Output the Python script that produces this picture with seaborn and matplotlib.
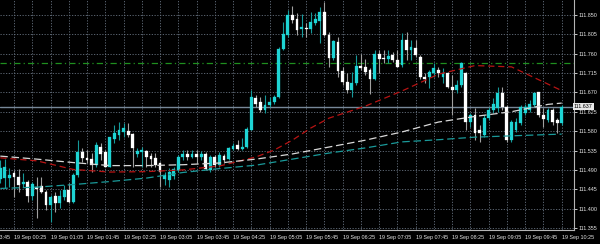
import numpy as np
import matplotlib
matplotlib.use("Agg")
import matplotlib.pyplot as plt
import matplotlib.transforms as mtransforms
import seaborn as sns

# ---------------- data (USDJPY-like M5 candles) ----------------
opens = [111.469, 111.471, 111.472, 111.483, 111.474, 111.457, 111.463, 111.429, 111.451, 111.453,
         111.439, 111.409, 111.429, 111.414, 111.426, 111.443, 111.416, 111.478, 111.531, 111.518,
         111.515, 111.501, 111.544, 111.532, 111.497, 111.562, 111.571, 111.579, 111.581, 111.573,
         111.527, 111.531, 111.535, 111.522, 111.517, 111.505, 111.470, 111.467, 111.476, 111.490,
         111.521, 111.528, 111.521, 111.528, 111.520, 111.527, 111.490, 111.521, 111.501, 111.523,
         111.515, 111.538, 111.548, 111.538, 111.544, 111.583, 111.656, 111.648, 111.629, 111.640,
         111.648, 111.658, 111.770, 111.803, 111.849, 111.839, 111.816, 111.820, 111.816, 111.831,
         111.836, 111.857, 111.803, 111.749, 111.787, 111.720, 111.695, 111.675, 111.691, 111.731,
         111.729, 111.722, 111.700, 111.760, 111.750, 111.747, 111.757, 111.745, 111.733, 111.791,
         111.768, 111.772, 111.753, 111.706, 111.705, 111.714, 111.722, 111.705, 111.714, 111.683,
         111.675, 111.687, 111.714, 111.602, 111.617, 111.583, 111.571, 111.610, 111.629, 111.633,
         111.668, 111.637, 111.559, 111.583, 111.598, 111.621, 111.629, 111.640, 111.670, 111.617,
         111.606, 111.630, 111.606, 111.598]
highs = [111.513, 111.515, 111.494, 111.490, 111.492, 111.483, 111.467, 111.462, 111.474, 111.474,
         111.443, 111.432, 111.439, 111.443, 111.455, 111.460, 111.483, 111.559, 111.541, 111.536,
         111.529, 111.555, 111.552, 111.536, 111.567, 111.594, 111.602, 111.599, 111.599, 111.576,
         111.541, 111.544, 111.536, 111.529, 111.529, 111.509, 111.486, 111.494, 111.497, 111.525,
         111.536, 111.536, 111.536, 111.536, 111.534, 111.532, 111.525, 111.525, 111.532, 111.528,
         111.544, 111.552, 111.559, 111.563, 111.590, 111.675, 111.664, 111.660, 111.664, 111.660,
         111.664, 111.776, 111.834, 111.861, 111.870, 111.853, 111.852, 111.830, 111.857, 111.853,
         111.867, 111.880, 111.811, 111.791, 111.799, 111.729, 111.714, 111.718, 111.757, 111.760,
         111.747, 111.726, 111.768, 111.768, 111.768, 111.768, 111.764, 111.768, 111.807, 111.811,
         111.791, 111.791, 111.757, 111.714, 111.722, 111.737, 111.729, 111.726, 111.718, 111.710,
         111.698, 111.741, 111.718, 111.621, 111.634, 111.594, 111.617, 111.637, 111.657, 111.683,
         111.683, 111.640, 111.606, 111.610, 111.640, 111.644, 111.652, 111.671, 111.671, 111.633,
         111.633, 111.633, 111.610, 111.640]
lows = [111.460, 111.448, 111.451, 111.428, 111.439, 111.450, 111.416, 111.420, 111.378, 111.436,
        111.397, 111.370, 111.393, 111.402, 111.420, 111.413, 111.413, 111.474, 111.508, 111.506,
        111.485, 111.497, 111.513, 111.497, 111.497, 111.552, 111.559, 111.567, 111.567, 111.497,
        111.521, 111.497, 111.497, 111.497, 111.497, 111.451, 111.455, 111.451, 111.470, 111.486,
        111.513, 111.513, 111.518, 111.505, 111.513, 111.490, 111.486, 111.497, 111.497, 111.505,
        111.513, 111.536, 111.536, 111.536, 111.540, 111.583, 111.637, 111.625, 111.623, 111.637,
        111.644, 111.656, 111.768, 111.799, 111.831, 111.803, 111.799, 111.799, 111.807, 111.826,
        111.785, 111.801, 111.729, 111.745, 111.706, 111.687, 111.668, 111.660, 111.687, 111.722,
        111.710, 111.666, 111.698, 111.714, 111.737, 111.737, 111.741, 111.729, 111.729, 111.745,
        111.745, 111.753, 111.702, 111.691, 111.679, 111.706, 111.706, 111.691, 111.679, 111.617,
        111.668, 111.683, 111.583, 111.590, 111.559, 111.555, 111.567, 111.606, 111.622, 111.625,
        111.629, 111.555, 111.555, 111.579, 111.594, 111.617, 111.625, 111.637, 111.613, 111.590,
        111.602, 111.594, 111.575, 111.594]
closes = [111.494, 111.497, 111.478, 111.474, 111.455, 111.463, 111.429, 111.457, 111.446, 111.439,
          111.409, 111.427, 111.414, 111.429, 111.443, 111.416, 111.478, 111.532, 111.518, 111.513,
          111.501, 111.548, 111.528, 111.497, 111.566, 111.576, 111.583, 111.587, 111.571, 111.540,
          111.534, 111.536, 111.521, 111.515, 111.501, 111.486, 111.478, 111.486, 111.492, 111.521,
          111.528, 111.519, 111.528, 111.520, 111.527, 111.491, 111.521, 111.501, 111.525, 111.513,
          111.540, 111.546, 111.538, 111.544, 111.586, 111.658, 111.644, 111.629, 111.640, 111.648,
          111.658, 111.770, 111.805, 111.849, 111.838, 111.815, 111.821, 111.817, 111.834, 111.839,
          111.857, 111.803, 111.749, 111.790, 111.720, 111.695, 111.675, 111.692, 111.731, 111.726,
          111.718, 111.700, 111.760, 111.747, 111.747, 111.754, 111.745, 111.729, 111.791, 111.768,
          111.776, 111.757, 111.706, 111.700, 111.718, 111.726, 111.714, 111.715, 111.683, 111.675,
          111.687, 111.737, 111.602, 111.617, 111.575, 111.576, 111.610, 111.629, 111.643, 111.668,
          111.637, 111.559, 111.602, 111.602, 111.637, 111.637, 111.644, 111.668, 111.617, 111.607,
          111.629, 111.602, 111.599, 111.637]

# moving averages, read at selected bars
ma_bars = [0, 8, 16, 24, 32, 40, 48, 56, 60, 64, 68, 72, 80, 88, 96, 104, 112, 120, 123]
ma_red = [111.518, 111.511, 111.491, 111.485, 111.486, 111.490, 111.499, 111.520, 111.536, 111.559,
          111.587, 111.610, 111.638, 111.673, 111.712, 111.732, 111.729, 111.689, 111.674]
ma_white = [111.522, 111.515, 111.507, 111.500, 111.500, 111.502, 111.506, 111.515, 111.521, 111.527,
            111.535, 111.543, 111.559, 111.578, 111.601, 111.614, 111.625, 111.642, 111.645]
ma_teal = [111.447, 111.450, 111.456, 111.463, 111.471, 111.484, 111.493, 111.501, 111.508, 111.515,
           111.522, 111.529, 111.541, 111.555, 111.560, 111.566, 111.569, 111.572, 111.573]

level_green = 111.739
bid_price = 111.637

y_ticks = [111.355, 111.400, 111.445, 111.490, 111.535, 111.580, 111.625, 111.670,
           111.715, 111.760, 111.805, 111.850]
x_label_bars = [3, 11, 19, 27, 35, 43, 51, 59, 67, 75, 83, 91, 99, 107, 115, 123]
x_labels = ["19 Sep 00:25", "19 Sep 01:05", "19 Sep 01:45", "19 Sep 02:25", "19 Sep 03:05",
            "19 Sep 03:45", "19 Sep 04:25", "19 Sep 05:05", "19 Sep 05:45", "19 Sep 06:25",
            "19 Sep 07:05", "19 Sep 07:45", "19 Sep 08:25", "19 Sep 09:05", "19 Sep 09:45",
            "19 Sep 10:25"]
prev_label_bar = -5
prev_label = "18 Sep 23:45"

# ---------------- style ----------------
sns.set_theme(style="dark")
plt.rcParams['font.family'] = ['Liberation Sans', 'DejaVu Sans']

BG = "black"
GRID = "#66717f"
BIDLINE = "#778899"
TXT = "#e6e6e6"
BULL = "#1ed4d4"
BULL_WICK = "#159a9a"
BEAR = "#ffffff"
BEAR_WICK = "#a0a0a0"
FS = 3.9

fig = plt.figure(figsize=(6.0, 2.44), dpi=100, facecolor=BG)
ax = fig.add_axes([0.0, 14 / 244, 574 / 600, 230 / 244])
ax.set_facecolor(BG)

o = np.array(opens); h = np.array(highs); l = np.array(lows); c = np.array(closes)
idx = np.arange(len(o))
bull = c >= o
bear = ~bull

ax.vlines(idx[bull], l[bull], h[bull], color=BULL_WICK, lw=0.8, zorder=3)
ax.vlines(idx[bear], l[bear], h[bear], color=BEAR_WICK, lw=0.8, zorder=3)
hb = np.maximum(np.abs(c - o), 0.0012)
ax.bar(idx[bull], hb[bull], bottom=o[bull], width=0.62, color=BULL,
       edgecolor=BULL, linewidth=0.2, zorder=4)
ax.bar(idx[bear], hb[bear], bottom=c[bear], width=0.62, color=BEAR,
       edgecolor=BEAR, linewidth=0.2, zorder=4)

# moving averages
sns.lineplot(x=ma_bars, y=ma_red, ax=ax, color="#b81414", lw=0.9,
             linestyle=(0, (5, 3)), zorder=5)
sns.lineplot(x=ma_bars, y=ma_white, ax=ax, color="#d9d9d9", lw=0.9,
             linestyle=(0, (6, 3)), zorder=5)
sns.lineplot(x=ma_bars, y=ma_teal, ax=ax, color="#1a9a9a", lw=0.9,
             linestyle=(0, (6, 3)), zorder=5)

# horizontal levels
ax.axhline(level_green, color="#1f8f1f", lw=0.9, linestyle=(0, (5, 2.5, 1, 2.5)), zorder=2)
ax.axhline(bid_price, color=BIDLINE, lw=1.0, zorder=2)

# axes limits
ax.set_xlim(-0.07, 125.7)
ax.set_ylim(111.3506, 111.8841)

# grid & ticks
ax.set_axisbelow(True)
ax.yaxis.tick_right()
ax.set_yticks(y_ticks)
ax.set_yticklabels([f"{v:.3f}" for v in y_ticks])
ax.set_xticks(x_label_bars)
ax.set_xticklabels(x_labels)
ax.set_xticks(np.arange(3, 124, 4), minor=True)
for lbl in ax.get_xticklabels():
    lbl.set_horizontalalignment("left")
ax.grid(True, which="both", color=GRID, linestyle=(0, (1.5, 1.8)), lw=0.6)
ax.tick_params(axis="y", which="both", colors=TXT, labelsize=FS, length=2, width=0.6,
               pad=1.2, direction="out", right=True, left=False)
ax.tick_params(axis="x", which="major", colors=TXT, labelsize=FS, length=2, width=0.6,
               pad=1.5, direction="out")
ax.tick_params(axis="x", which="minor", length=0)

for side in ["top", "left"]:
    ax.spines[side].set_visible(False)
for side in ["right", "bottom"]:
    ax.spines[side].set_visible(True)
    ax.spines[side].set_color("#b4b4b4")
    ax.spines[side].set_linewidth(0.8)

# partially visible earlier time label (cut at the left edge, as in the reference)
off = mtransforms.ScaledTranslation(0, -3.5 / 72, fig.dpi_scale_trans)
trans = mtransforms.blended_transform_factory(ax.transData, ax.transAxes) + off
ax.text(prev_label_bar, 0, prev_label, transform=trans, ha="left", va="top",
        fontsize=FS, color=TXT, clip_on=False)

# current price box
btrans = mtransforms.blended_transform_factory(ax.transAxes, ax.transData)
ax.text(1.0, bid_price, f"{bid_price:.3f}", transform=btrans, ha="left", va="center",
        fontsize=FS, color="black", clip_on=False, zorder=10,
        bbox=dict(boxstyle="square,pad=0.25", fc="#e8e8e8", ec="none"))

fig.savefig("out.png", dpi=100, facecolor=BG)
